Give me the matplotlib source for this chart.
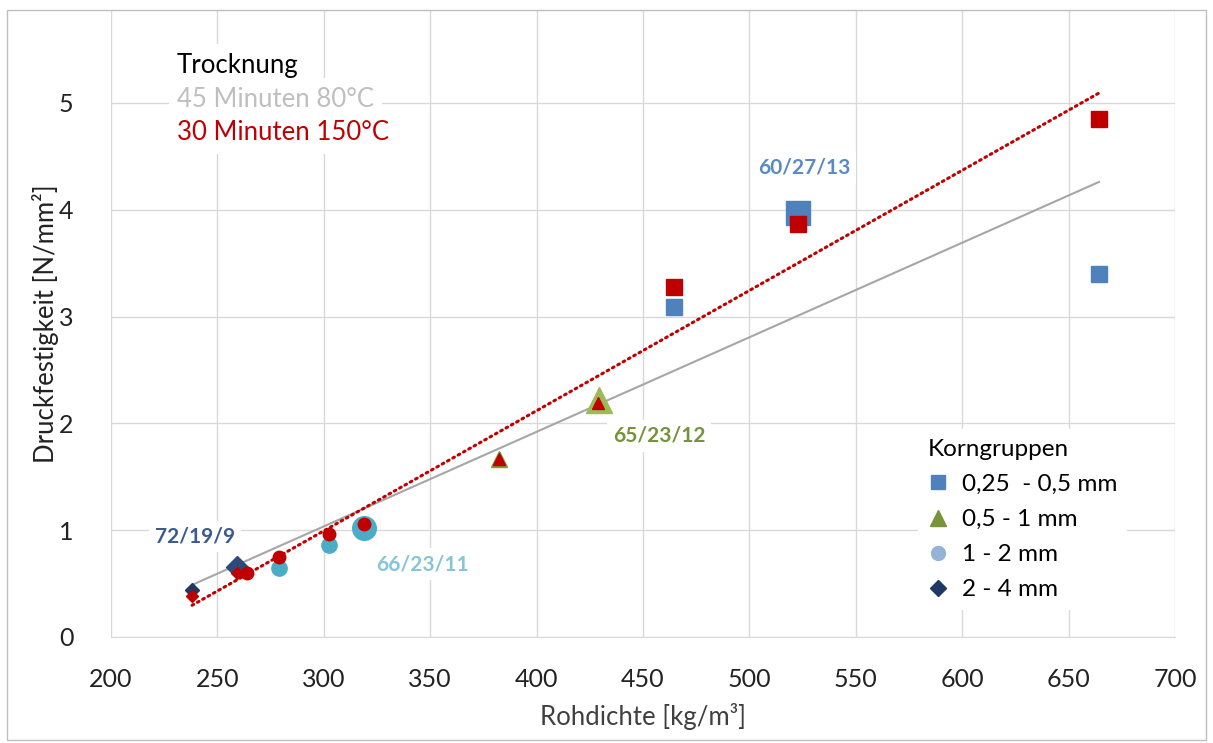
import numpy as np
import matplotlib.pyplot as plt
from matplotlib.lines import Line2D
from matplotlib.patches import Rectangle

plt.rcParams['font.family'] = ['Lato', 'DejaVu Sans']

# Trocknung 45 min / 80 degC (grouped by Korngruppe)
sq80_x = [464.6, 664.3]
sq80_y = [3.09, 3.40]
tri80_x = [382.3]
tri80_y = [1.67]
cir80_x = [279.0, 302.4]
cir80_y = [0.65, 0.86]
dia80_x = [238.1]
dia80_y = [0.44]

# labelled mixtures (80 degC), order: square, triangle, circle, diamond
lab_x = [522.8, 429.3, 318.9, 259.2]
lab_y = [3.97, 2.22, 1.02, 0.66]
lab_text = ["60/27/13", "65/23/12", "66/23/11", "72/19/9"]

# Trocknung 30 min / 150 degC
sq150_x = [464.6, 523.0, 664.3]
sq150_y = [3.28, 3.87, 4.85]
tri150_x = [382.3, 429.0]
tri150_y = [1.67, 2.19]
cir150_x = [263.9, 279.0, 302.4, 318.9]
cir150_y = [0.60, 0.75, 0.96, 1.06]
dia150_x = [238.1, 259.2]
dia150_y = [0.38, 0.60]

legend_labels = ["0,25  - 0,5 mm", "0,5 - 1 mm", "1 - 2 mm", "2 - 4 mm"]

c_sq = '#4f81bd'
c_tri = '#77a03c'
c_cir = '#4bacc6'
c_dia = '#1f3864'
c_red = '#c00000'

fig = plt.figure(figsize=(12.13, 7.43), dpi=100)
ax = fig.add_axes([111/1213, 1-637/743, (1175-111)/1213, (637-10)/743])

# outer chart border
fig.patches.append(Rectangle((7/1213, 3/743), 1199/1213, 730/743, transform=fig.transFigure,
                             fill=False, edgecolor='#bfbfbf', lw=1.0))

# trend lines (linear fit)
x80 = np.array(sq80_x + tri80_x + cir80_x + dia80_x + lab_x)
y80 = np.array(sq80_y + tri80_y + cir80_y + dia80_y + lab_y)
x150 = np.array(sq150_x + tri150_x + cir150_x + dia150_x)
y150 = np.array(sq150_y + tri150_y + cir150_y + dia150_y)
k80 = np.polyfit(x80, y80, 1)
k150 = np.polyfit(x150, y150, 1)
xs80 = np.array([x80.min(), x80.max()])
xs150 = np.array([x150.min(), x150.max()])
ax.plot(xs80, np.polyval(k80, xs80), color='#a6a6a6', lw=1.5, zorder=2)
ax.plot(xs150, np.polyval(k150, xs150), color=c_red, lw=2.2, ls=(0, (0.6, 1.4)),
        dash_capstyle='round', zorder=2)

# 80 degC markers
ax.plot(sq80_x, sq80_y, 's', color=c_sq, ms=11, ls='none', zorder=3)
ax.plot(tri80_x, tri80_y, '^', color=c_tri, ms=12, ls='none', zorder=3)
ax.plot(cir80_x, cir80_y, 'o', color=c_cir, ms=11, ls='none', zorder=3)
ax.plot(dia80_x, dia80_y, 'D', color=c_dia, ms=7, ls='none', zorder=3)
for (x, y), m, c, s in zip(zip(lab_x, lab_y), ['s', '^', 'o', 'D'],
                           [c_sq, '#9bbb59', c_cir, '#2e4a7a'], [17, 19, 17, 11]):
    ax.plot([x], [y], m, color=c, ms=s, ls='none', zorder=3)

# 150 degC markers
ax.plot(sq150_x, sq150_y, 's', color=c_red, ms=11, ls='none', zorder=4)
ax.plot(tri150_x, tri150_y, '^', color=c_red, ms=9, ls='none', zorder=4)
ax.plot(cir150_x, cir150_y, 'o', color=c_red, ms=9, ls='none', zorder=4)
ax.plot(dia150_x, dia150_y, 'D', color=c_red, ms=6, ls='none', zorder=4)

# data labels
lab_offsets = [(6, 46), (60, -36), (58, -36), (-42, 30)]
lab_colors = ['#5a8ac6', '#76923c', '#86c5d8', '#3b5b8c']
for x, y, t, (dx, dy), c in zip(lab_x, lab_y, lab_text, lab_offsets, lab_colors):
    ax.annotate(t, (x, y), xytext=(dx, dy), textcoords='offset pixels', ha='center', va='center',
                fontsize=15, fontweight='bold', color=c, zorder=5,
                bbox=dict(facecolor='white', edgecolor='none', pad=4))

# drying legend text
ax.text(0.062, 0.912, "Trocknung", transform=ax.transAxes, fontsize=18.5, color='black',
        va='center', zorder=5, bbox=dict(facecolor='white', edgecolor='none', pad=6))
ax.text(0.062, 0.858, "45 Minuten 80°C", transform=ax.transAxes, fontsize=18.5, color='#bfbfbf',
        va='center', zorder=5, bbox=dict(facecolor='white', edgecolor='none', pad=6))
ax.text(0.062, 0.804, "30 Minuten 150°C", transform=ax.transAxes, fontsize=18.5, color=c_red,
        va='center', zorder=5, bbox=dict(facecolor='white', edgecolor='none', pad=6))

# Korngruppen legend
handles = [Line2D([], [], marker='s', color=c_sq, ls='none', ms=10),
           Line2D([], [], marker='^', color='#77933c', ls='none', ms=11),
           Line2D([], [], marker='o', color='#95b3d7', ls='none', ms=10),
           Line2D([], [], marker='D', color=c_dia, ls='none', ms=8)]
leg = ax.legend(handles, legend_labels, title="Korngruppen", loc='upper left',
                bbox_to_anchor=(906/1213, 1-417/743), bbox_transform=fig.transFigure,
                fontsize=17.5, title_fontsize=17.5, frameon=True, framealpha=1, edgecolor='none',
                handlelength=0.8, handletextpad=0.6, labelspacing=0.58, borderpad=0.4,
                alignment='left', fancybox=False)
leg.set_zorder(6)

ax.set_xlim(200, 700)
ax.set_ylim(0, (637-10)/106.8)
ax.set_xticks(np.arange(200, 701, 50))
ax.set_yticks(np.arange(0, 6, 1))
ax.grid(True, color='#d9d9d9', lw=1.0)
ax.set_axisbelow(True)
for s in ['top', 'right', 'left']:
    ax.spines[s].set_visible(False)
ax.spines['bottom'].set_color('#d9d9d9')
ax.tick_params(length=0, labelsize=18, colors='#222222')
ax.tick_params(axis='x', pad=22)
ax.tick_params(axis='y', pad=27)
ax.set_xlabel("Rohdichte [kg/m³]", fontsize=18.5, color='#404040', labelpad=9)
ax.set_ylabel("Druckfestigkeit [N/mm²]", fontsize=18.5, color='#222222', labelpad=0)

fig.savefig('out.png', dpi=100)
